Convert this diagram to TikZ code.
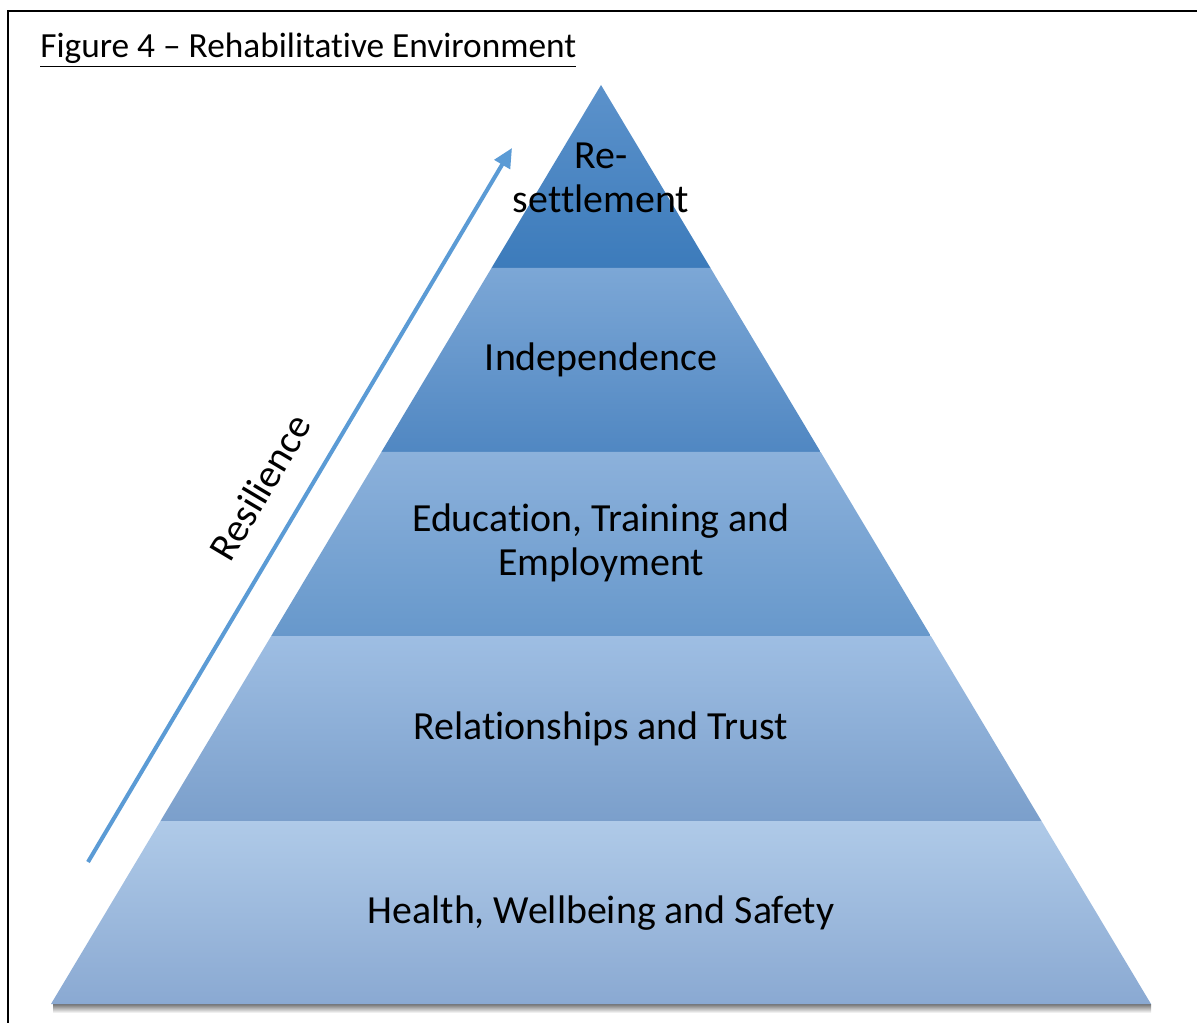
\documentclass[tikz,border=0pt]{standalone}
\usepackage{fontspec}
\setmainfont{Carlito}[Ligatures=NoCommon]
\usetikzlibrary{arrows.meta}

\definecolor{resblue}{HTML}{5B9BD5}
\definecolor{topA}{HTML}{5C92CB}   \definecolor{botA}{HTML}{3C7BBB}
\definecolor{topB}{HTML}{7CA7D6}   \definecolor{botB}{HTML}{5087C2}
\definecolor{topC}{HTML}{8CB1DB}   \definecolor{botC}{HTML}{6798CB}
\definecolor{topD}{HTML}{9EBEE3}   \definecolor{botD}{HTML}{7B9FCB}
\definecolor{topE}{HTML}{AFCAE8}   \definecolor{botE}{HTML}{8AA9D2}

\begin{document}
\begin{tikzpicture}[x=0.02cm, y=-0.02cm,
    label/.style={align=center, text=black, font=\fontsize{22.7}{25}\selectfont},
    band/.style={draw=none}]
            \useasboundingbox (0,0) rectangle (1197,1023);

            % frame
            \draw[line width=1.3pt] (8,1023) -- (8,11) -- (1197,11);
            \node[anchor=base west, inner sep=0pt, font=\fontsize{20.1}{24}\selectfont] (title) at (40,58) {\underline{Figure 4 -- Rehabilitative Environment}};

            % pyramid corners
            \coordinate (apex) at (601,85);
            \coordinate (l1) at (491.5,268); \coordinate (r1) at (710.5,268);
            \coordinate (l2) at (381.4,452); \coordinate (r2) at (820.6,452);
            \coordinate (l3) at (271.2,636); \coordinate (r3) at (930.8,636);
            \coordinate (l4) at (160.5,821); \coordinate (r4) at (1041.5,821);
            \coordinate (l5) at (51,1004);   \coordinate (r5) at (1151,1004);

            % shadow under the base
            \shade[top color=black!55, bottom color=white] (53,1004) rectangle (1151,1013);

            \shade[band, top color=topA, bottom color=botA] (apex) -- (r1) -- (l1) -- cycle;
            \shade[band, top color=topB, bottom color=botB] (l1) -- (r1) -- (r2) -- (l2) -- cycle;
            \shade[band, top color=topC, bottom color=botC] (l2) -- (r2) -- (r3) -- (l3) -- cycle;
            \shade[band, top color=topD, bottom color=botD] (l3) -- (r3) -- (r4) -- (l4) -- cycle;
            \shade[band, top color=topE, bottom color=botE] (l4) -- (r4) -- (r5) -- (l5) -- cycle;

            \begin{scope}[every node/.style={label}]
                \node (resettle) at (601,178) {Re-\\settlement};
                \node (indep) at (601,360) {Independence};
                \node (educ) at (601,543) {Education, Training and\\Employment};
                \node (relat) at (601,729) {Relationships and Trust};
                \node (health) at (601,913) {Health, Wellbeing and Safety};
            \end{scope}

            % resilience arrow
            \coordinate (rstart) at (88,862);
            \coordinate (rend) at (512,148);
            \draw[resblue, line width=2.3pt, -{Triangle[length=11pt, width=10pt]}] (rstart) -- (rend);
            \node[label, rotate=59.3] (resil) at (260,487) {Resilience};
        \end{tikzpicture}
\end{document}
